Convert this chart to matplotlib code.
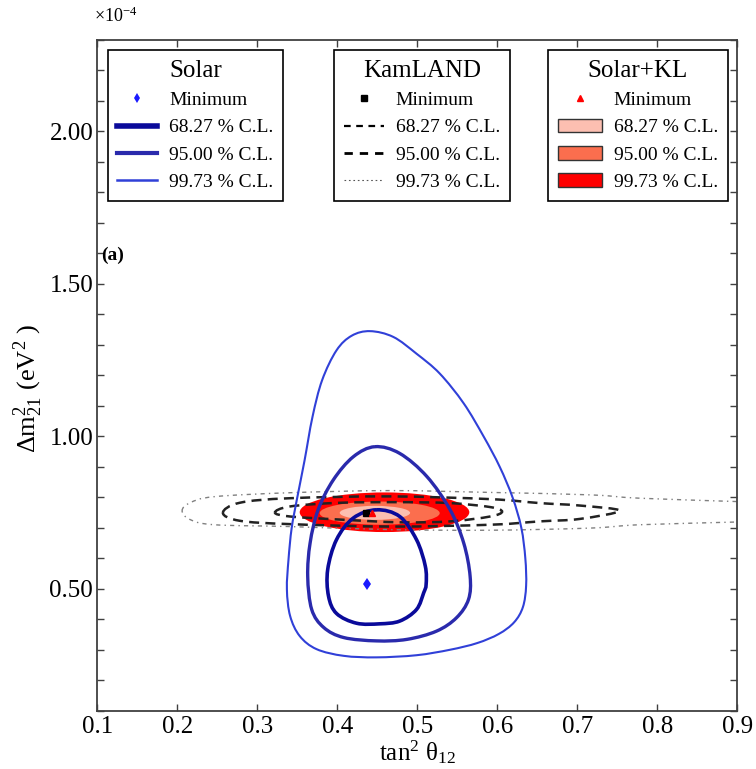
import numpy as np
import matplotlib
matplotlib.use("Agg")
import matplotlib.pyplot as plt
from matplotlib.lines import Line2D
from matplotlib.patches import Patch, Ellipse, PathPatch
from matplotlib.path import Path
from matplotlib.ticker import MultipleLocator, FixedLocator, FormatStrFormatter

plt.rcParams['font.family'] = ['Liberation Serif', 'DejaVu Serif']
plt.rcParams['mathtext.fontset'] = 'custom'
plt.rcParams['mathtext.rm'] = 'Liberation Serif'
plt.rcParams['mathtext.it'] = 'Liberation Serif:italic'
plt.rcParams['mathtext.default'] = 'regular'

# --- data (tan^2 theta12, dm2_21 in units of 1e-4 eV^2) ---
solar_min = (0.437, 0.516)
kl_min = (0.4355, 0.749)
comb_min = (0.443, 0.748)

# solar contours (closed outlines)
solar_68_x = [0.449, 0.478, 0.499, 0.510, 0.511, 0.508, 0.499, 0.478, 0.453, 0.424, 0.399,
              0.389, 0.388, 0.399, 0.420]
solar_68_y = [0.759, 0.737, 0.661, 0.574, 0.514, 0.487, 0.432, 0.394, 0.385, 0.387, 0.419,
              0.476, 0.563, 0.661, 0.732]

solar_95_x = [0.447, 0.478, 0.512, 0.541, 0.558, 0.566, 0.564, 0.549, 0.524, 0.487, 0.449,
              0.408, 0.383, 0.368, 0.363, 0.366, 0.376, 0.395, 0.420]
solar_95_y = [0.966, 0.944, 0.868, 0.759, 0.650, 0.541, 0.465, 0.405, 0.361, 0.334, 0.329,
              0.340, 0.373, 0.432, 0.541, 0.650, 0.759, 0.857, 0.933]

solar_997_x = [0.441, 0.470, 0.499, 0.528, 0.558, 0.583, 0.603, 0.619, 0.630, 0.635, 0.636,
               0.632, 0.621, 0.602, 0.575, 0.541, 0.499, 0.449, 0.408, 0.374, 0.353, 0.341,
               0.337, 0.339, 0.343, 0.350, 0.359, 0.369, 0.381, 0.399, 0.418]
solar_997_y = [1.345, 1.326, 1.271, 1.206, 1.108, 0.999, 0.900, 0.800, 0.700, 0.600, 0.510,
               0.440, 0.390, 0.352, 0.322, 0.300, 0.282, 0.275, 0.280, 0.302, 0.345, 0.411,
               0.498, 0.596, 0.700, 0.800, 0.920, 1.064, 1.184, 1.282, 1.330]

# KamLAND contours: x positions with upper / lower branch (first and last are the tips)
kl_68_x = [0.322, 0.341, 0.403, 0.478, 0.541, 0.591, 0.606]
kl_68_top = [0.750, 0.770, 0.782, 0.784, 0.781, 0.768, 0.753]
kl_68_bot = [0.750, 0.737, 0.727, 0.718, 0.721, 0.737, 0.753]

kl_95_x = [0.257, 0.278, 0.341, 0.466, 0.591, 0.653, 0.703, 0.753]
kl_95_top = [0.749, 0.782, 0.797, 0.803, 0.794, 0.781, 0.773, 0.756]
kl_95_bot = [0.749, 0.723, 0.712, 0.704, 0.710, 0.721, 0.729, 0.756]

kl_997_x = [0.206, 0.216, 0.246, 0.341, 0.466, 0.591, 0.716, 0.778, 0.900, 0.980, 1.050]
kl_997_top = [0.756, 0.782, 0.802, 0.815, 0.822, 0.816, 0.808, 0.797, 0.786, 0.778, 0.756]
kl_997_bot = [0.756, 0.727, 0.710, 0.704, 0.694, 0.692, 0.699, 0.710, 0.719, 0.727, 0.756]

# Solar+KL regions: centre x, centre y, full width, full height
comb_cx = [0.459, 0.453, 0.447]
comb_cy = [0.751, 0.748, 0.749]
comb_w = [0.212, 0.150, 0.088]
comb_h = [0.130, 0.076, 0.046]
comb_colors = ['#ff0000', '#fb6e4e', '#fcbfb1']

cl_labels = ['68.27 % C.L.', '95.00 % C.L.', '99.73 % C.L.']


def smooth_closed(x, y):
    # closed Catmull-Rom outline through the points, drawn as cubic Bezier path
    p = np.column_stack([x, y])
    n = len(p)
    verts = [p[0]]
    codes = [Path.MOVETO]
    for i in range(n):
        p0, p1, p2, p3 = p[i - 1], p[i], p[(i + 1) % n], p[(i + 2) % n]
        verts += [p1 + (p2 - p0) / 6, p2 - (p3 - p1) / 6, p2]
        codes += [Path.CURVE4] * 3
    return Path(verts, codes)


def lens(x, top, bot):
    xs = list(x) + list(x[-2:0:-1])
    ys = list(top) + list(bot[-2:0:-1])
    return xs, ys


# --- figure ---
fig = plt.figure(figsize=(7.56, 7.69), dpi=100)
ax = fig.add_axes([0.1287, 0.0758, 0.8466, 0.8722])

for cx, cy, w, h, c in zip(comb_cx, comb_cy, comb_w, comb_h, comb_colors):
    ax.add_patch(Ellipse((cx, cy), w, h, facecolor=c, edgecolor='none', zorder=1))

ax.add_patch(PathPatch(smooth_closed(*lens(kl_997_x, kl_997_top, kl_997_bot)), fill=False,
                       edgecolor='#808080', lw=1.0, ls=(0, (3, 3, 1, 3)), zorder=2))
for xs, tp, bt in [(kl_95_x, kl_95_top, kl_95_bot), (kl_68_x, kl_68_top, kl_68_bot)]:
    ax.add_patch(PathPatch(smooth_closed(*lens(xs, tp, bt)), fill=False,
                           edgecolor='#222222', lw=1.8, ls=(0, (4, 2.5)), zorder=2))

for xs, ys, c, lw in [(solar_997_x, solar_997_y, '#3040d8', 1.5),
                      (solar_95_x, solar_95_y, '#2a2aac', 2.4),
                      (solar_68_x, solar_68_y, '#0a0a9a', 2.6)]:
    ax.add_patch(PathPatch(smooth_closed(xs, ys), fill=False, edgecolor=c, lw=lw, zorder=3))

ax.plot(*solar_min, marker='d', color='#1a1aff', ms=6, mew=0, ls='none', zorder=4)
ax.plot(*kl_min, marker='s', color='black', ms=4, ls='none', zorder=4)
ax.plot(*comb_min, marker='^', color='red', ms=4.5, ls='none', zorder=5)

ax.set_xlim(0.1, 0.9)
ax.set_ylim(0.1, 2.3)
ax.xaxis.set_major_locator(MultipleLocator(0.1))
ax.xaxis.set_major_formatter(FormatStrFormatter('%.1f'))
ax.yaxis.set_major_locator(FixedLocator([0.5, 1.0, 1.5, 2.0]))
ax.yaxis.set_minor_locator(MultipleLocator(0.1))
ax.yaxis.set_major_formatter(FormatStrFormatter('%.2f'))
ax.tick_params(which='both', direction='in', top=True, right=True, labelsize=18,
               color='#404040', length=5, width=1.0)
ax.tick_params(axis='x', pad=4)
ax.tick_params(axis='y', pad=3)
for s in ax.spines.values():
    s.set_color('#404040')
    s.set_linewidth(1.3)

ax.set_xlabel(r'tan$^2$ θ$_{12}$', fontsize=18, labelpad=0)
ax.set_ylabel(r'Δm$^2_{21}$ (eV$^2$ )', fontsize=19)
ax.yaxis.set_label_coords(-0.082, 0.48)
ax.text(0.105, 1.592, '(a)', fontsize=14, fontweight='bold', va='center', ha='left')
fig.text(0.125, 0.979, r'×10$^{-4}$', fontsize=13, ha='left', va='center')

leg_kw = dict(fontsize=14, title_fontsize=18, frameon=True, fancybox=False,
              edgecolor='black', framealpha=1, handletextpad=0.62,
              labelspacing=0.5, borderpad=0.5, borderaxespad=0)

solar_handles = [Line2D([], [], marker='d', color='#1a1aff', mew=0, ms=5.5, ls='none'),
                 Line2D([], [], color='#0a0a9a', lw=4),
                 Line2D([], [], color='#2a2aac', lw=3),
                 Line2D([], [], color='#3040d8', lw=1.8)]
leg1 = ax.legend(solar_handles, ['Minimum'] + cl_labels, title='Solar', loc='upper left',
                 bbox_to_anchor=(0.016, 0.985), handlelength=2.05, **leg_kw)
ax.add_artist(leg1)

kl_handles = [Line2D([], [], marker='s', color='black', ms=4, ls='none'),
              Line2D([], [], color='black', lw=1.6, ls=(0, (3, 2.5))),
              Line2D([], [], color='black', lw=2.0, ls=(0, (3, 2.5))),
              Line2D([], [], color='#555555', lw=0.8, ls=(0, (1.5, 2.5)))]
leg2 = ax.legend(kl_handles, ['Minimum'] + cl_labels, title='KamLAND', loc='upper center',
                 bbox_to_anchor=(0.507, 0.985), handlelength=2.05, **leg_kw)
ax.add_artist(leg2)

comb_handles = [Line2D([], [], marker='^', color='red', ms=4.5, ls='none')] + \
               [Patch(facecolor=c, edgecolor='#333333', lw=1.0) for c in comb_colors[::-1]]
leg3 = ax.legend(comb_handles, ['Minimum'] + cl_labels, title='Solar+KL', loc='upper right',
                 bbox_to_anchor=(0.985, 0.985), handlelength=2.26, **leg_kw)
for leg in (leg1, leg2, leg3):
    leg.get_frame().set_linewidth(1.2)

fig.savefig('out.png', dpi=100)
